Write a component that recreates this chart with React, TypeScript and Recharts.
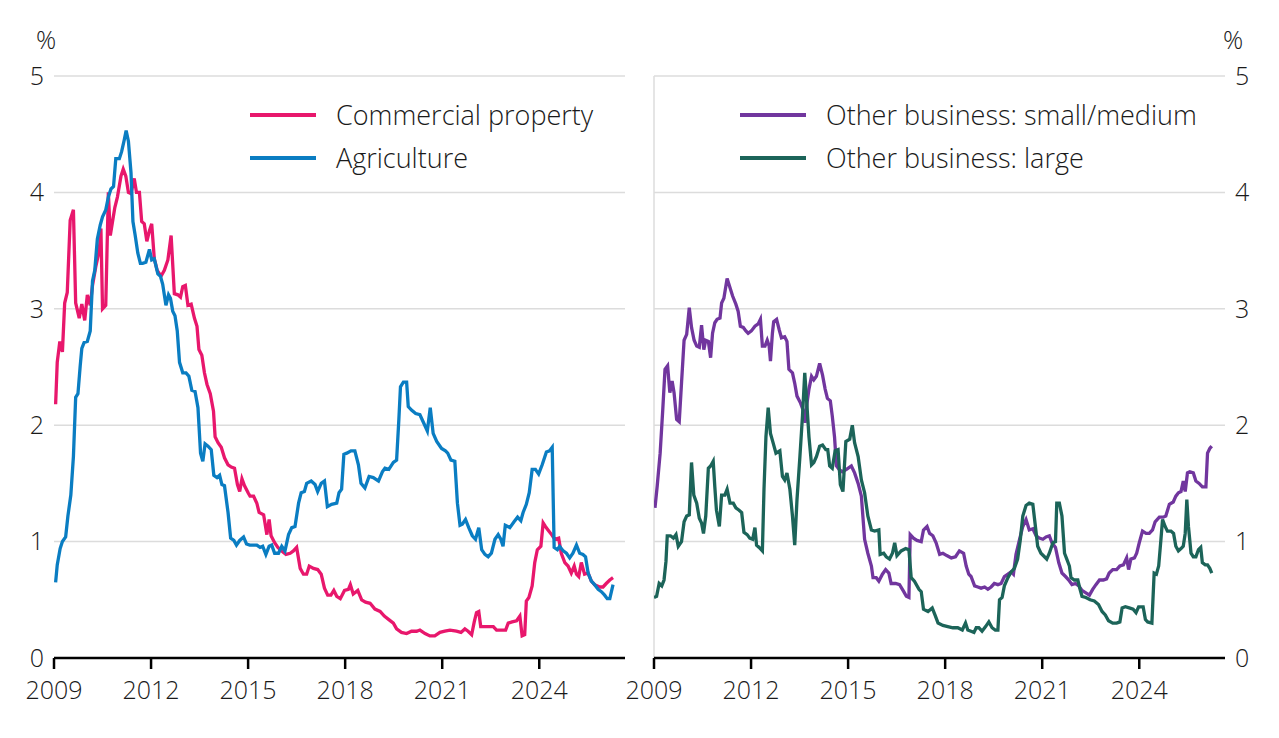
import React from 'react';
import { LineChart, Line, XAxis, YAxis, CartesianGrid, ReferenceLine } from 'recharts';

const yearTicks = [2009, 2012, 2015, 2018, 2021, 2024];
const pctTicks = [0, 1, 2, 3, 4, 5];

const commercialProperty: [number, number][] = [
[2009.05,2.18],[2009.10,2.54],[2009.18,2.72],[2009.26,2.63],[2009.33,3.05],[2009.41,3.14],[2009.50,3.76],[2009.60,3.85],[2009.67,3.05],[2009.78,2.92],[2009.86,3.04],[2009.95,2.9],[2010.03,3.12],[2010.12,3.03],[2010.19,3.2],[2010.29,3.36],[2010.40,3.5],[2010.45,3.69],[2010.50,3.0],[2010.60,3.03],[2010.68,4.0],[2010.74,3.63],[2010.81,3.75],[2010.88,3.87],[2010.96,3.96],[2011.07,4.14],[2011.14,4.2],[2011.22,4.14],[2011.30,4.0],[2011.38,3.99],[2011.48,4.12],[2011.55,4.0],[2011.64,4.0],[2011.71,3.75],[2011.79,3.73],[2011.87,3.58],[2011.95,3.67],[2012.02,3.73],[2012.10,3.43],[2012.19,3.33],[2012.31,3.28],[2012.41,3.33],[2012.52,3.42],[2012.62,3.63],[2012.72,3.13],[2012.83,3.12],[2012.91,3.1],[2012.98,3.19],[2013.06,3.2],[2013.14,3.03],[2013.24,3.04],[2013.34,2.92],[2013.42,2.85],[2013.48,2.65],[2013.57,2.6],[2013.65,2.45],[2013.73,2.35],[2013.83,2.27],[2013.93,2.12],[2013.98,1.9],[2014.07,1.85],[2014.17,1.81],[2014.27,1.72],[2014.38,1.66],[2014.48,1.64],[2014.58,1.63],[2014.67,1.49],[2014.74,1.43],[2014.81,1.54],[2014.89,1.48],[2015.00,1.42],[2015.06,1.39],[2015.17,1.39],[2015.27,1.33],[2015.34,1.25],[2015.48,1.23],[2015.58,1.06],[2015.65,1.19],[2015.71,1.05],[2015.82,0.99],[2015.92,0.95],[2016.04,0.92],[2016.17,0.89],[2016.30,0.9],[2016.40,0.92],[2016.50,0.95],[2016.61,0.77],[2016.71,0.72],[2016.81,0.72],[2016.89,0.79],[2017.02,0.77],[2017.15,0.76],[2017.26,0.72],[2017.36,0.6],[2017.46,0.54],[2017.56,0.54],[2017.65,0.58],[2017.74,0.53],[2017.85,0.51],[2017.98,0.58],[2018.10,0.59],[2018.16,0.63],[2018.25,0.55],[2018.39,0.58],[2018.51,0.5],[2018.63,0.48],[2018.77,0.47],[2018.92,0.42],[2019.08,0.4],[2019.21,0.36],[2019.35,0.33],[2019.49,0.3],[2019.59,0.25],[2019.74,0.22],[2019.90,0.21],[2020.05,0.23],[2020.21,0.23],[2020.31,0.24],[2020.47,0.21],[2020.62,0.19],[2020.77,0.19],[2020.93,0.22],[2021.08,0.23],[2021.24,0.24],[2021.44,0.23],[2021.58,0.22],[2021.70,0.25],[2021.80,0.23],[2021.91,0.2],[2021.99,0.31],[2022.06,0.39],[2022.13,0.4],[2022.19,0.27],[2022.32,0.27],[2022.47,0.27],[2022.58,0.27],[2022.68,0.24],[2022.83,0.24],[2022.96,0.24],[2023.04,0.3],[2023.16,0.31],[2023.30,0.32],[2023.40,0.36],[2023.47,0.19],[2023.55,0.2],[2023.60,0.49],[2023.68,0.52],[2023.78,0.62],[2023.86,0.82],[2023.94,0.93],[2024.05,0.96],[2024.12,1.16],[2024.19,1.13],[2024.27,1.1],[2024.38,1.06],[2024.48,1.02],[2024.60,1.03],[2024.68,0.9],[2024.79,0.82],[2024.89,0.79],[2024.99,0.73],[2025.08,0.79],[2025.15,0.72],[2025.22,0.7],[2025.30,0.82],[2025.40,0.72],[2025.51,0.73],[2025.61,0.66],[2025.71,0.63],[2025.87,0.61],[2025.97,0.61],[2026.07,0.64],[2026.18,0.67],[2026.28,0.69]
];

const agriculture: [number, number][] = [
[2009.05,0.65],[2009.10,0.8],[2009.19,0.94],[2009.26,1.0],[2009.36,1.04],[2009.43,1.22],[2009.52,1.4],[2009.60,1.73],[2009.67,2.24],[2009.74,2.27],[2009.81,2.51],[2009.86,2.66],[2009.93,2.71],[2010.03,2.72],[2010.12,2.81],[2010.19,3.24],[2010.26,3.33],[2010.34,3.6],[2010.43,3.72],[2010.50,3.79],[2010.60,3.85],[2010.68,3.96],[2010.76,4.03],[2010.84,4.05],[2010.91,4.29],[2011.02,4.29],[2011.09,4.35],[2011.17,4.45],[2011.23,4.53],[2011.30,4.44],[2011.38,4.17],[2011.44,3.75],[2011.51,3.63],[2011.59,3.48],[2011.67,3.39],[2011.74,3.39],[2011.84,3.4],[2011.95,3.51],[2012.02,3.42],[2012.10,3.43],[2012.21,3.3],[2012.29,3.28],[2012.36,3.21],[2012.46,3.03],[2012.54,3.12],[2012.60,3.09],[2012.67,2.98],[2012.74,2.94],[2012.81,2.81],[2012.88,2.54],[2012.98,2.45],[2013.08,2.45],[2013.17,2.42],[2013.26,2.3],[2013.36,2.29],[2013.45,2.15],[2013.53,1.76],[2013.60,1.69],[2013.67,1.84],[2013.76,1.82],[2013.86,1.79],[2013.94,1.57],[2014.04,1.55],[2014.12,1.57],[2014.19,1.49],[2014.27,1.48],[2014.38,1.25],[2014.46,1.03],[2014.56,1.01],[2014.64,0.97],[2014.74,1.01],[2014.86,1.04],[2014.95,0.98],[2015.05,0.97],[2015.12,0.97],[2015.27,0.97],[2015.37,0.95],[2015.45,0.96],[2015.55,0.89],[2015.65,0.96],[2015.73,0.97],[2015.82,0.9],[2015.94,0.9],[2016.04,0.96],[2016.14,0.92],[2016.25,1.06],[2016.35,1.12],[2016.45,1.13],[2016.56,1.33],[2016.64,1.42],[2016.74,1.43],[2016.81,1.5],[2016.95,1.52],[2017.07,1.49],[2017.15,1.43],[2017.26,1.5],[2017.36,1.52],[2017.45,1.3],[2017.58,1.32],[2017.74,1.33],[2017.81,1.42],[2017.89,1.45],[2017.96,1.75],[2018.05,1.76],[2018.18,1.78],[2018.30,1.78],[2018.41,1.66],[2018.49,1.5],[2018.61,1.46],[2018.74,1.56],[2018.87,1.55],[2019.03,1.52],[2019.15,1.6],[2019.23,1.63],[2019.35,1.62],[2019.49,1.68],[2019.59,1.7],[2019.66,2.05],[2019.71,2.33],[2019.80,2.37],[2019.90,2.37],[2019.95,2.16],[2020.05,2.13],[2020.18,2.1],[2020.31,2.09],[2020.41,2.03],[2020.54,1.95],[2020.63,2.15],[2020.72,1.93],[2020.83,1.86],[2020.98,1.8],[2021.10,1.78],[2021.17,1.76],[2021.27,1.7],[2021.39,1.69],[2021.47,1.33],[2021.55,1.14],[2021.62,1.15],[2021.72,1.19],[2021.82,1.12],[2021.93,1.05],[2022.03,1.02],[2022.13,1.12],[2022.22,0.93],[2022.32,0.89],[2022.42,0.87],[2022.52,0.9],[2022.63,1.02],[2022.73,1.06],[2022.81,1.02],[2022.88,0.96],[2022.95,1.14],[2023.09,1.12],[2023.22,1.17],[2023.33,1.21],[2023.43,1.18],[2023.50,1.25],[2023.60,1.32],[2023.69,1.42],[2023.78,1.62],[2023.88,1.62],[2023.98,1.58],[2024.09,1.66],[2024.22,1.77],[2024.32,1.78],[2024.40,1.81],[2024.46,0.95],[2024.56,0.93],[2024.63,0.96],[2024.74,0.92],[2024.84,0.9],[2024.94,0.86],[2025.04,0.9],[2025.15,0.97],[2025.25,0.9],[2025.35,0.89],[2025.43,0.87],[2025.51,0.73],[2025.61,0.66],[2025.71,0.63],[2025.82,0.59],[2025.92,0.57],[2026.02,0.54],[2026.10,0.51],[2026.18,0.51],[2026.28,0.63]
];

const otherSmallMedium: [number, number][] = [
[2009.03,1.29],[2009.10,1.48],[2009.19,1.76],[2009.27,2.13],[2009.34,2.48],[2009.42,2.51],[2009.49,2.28],[2009.56,2.38],[2009.62,2.28],[2009.70,2.05],[2009.78,2.03],[2009.85,2.36],[2009.93,2.73],[2010.01,2.78],[2010.09,3.01],[2010.16,2.84],[2010.24,2.73],[2010.32,2.68],[2010.40,2.67],[2010.47,2.86],[2010.54,2.65],[2010.60,2.73],[2010.68,2.72],[2010.75,2.58],[2010.81,2.79],[2010.88,2.88],[2010.95,2.91],[2011.04,2.92],[2011.09,3.05],[2011.16,3.09],[2011.26,3.26],[2011.35,3.18],[2011.43,3.11],[2011.53,3.04],[2011.60,2.98],[2011.67,2.85],[2011.76,2.84],[2011.84,2.81],[2011.91,2.79],[2012.01,2.81],[2012.12,2.85],[2012.22,2.87],[2012.29,2.91],[2012.35,2.68],[2012.43,2.68],[2012.50,2.73],[2012.56,2.68],[2012.60,2.55],[2012.66,2.79],[2012.70,2.89],[2012.79,2.91],[2012.87,2.82],[2012.94,2.75],[2013.04,2.76],[2013.11,2.72],[2013.17,2.48],[2013.28,2.45],[2013.35,2.36],[2013.42,2.25],[2013.53,2.19],[2013.61,2.13],[2013.67,2.02],[2013.73,2.19],[2013.79,2.31],[2013.87,2.42],[2013.94,2.39],[2014.02,2.42],[2014.12,2.53],[2014.21,2.43],[2014.29,2.31],[2014.36,2.23],[2014.45,2.21],[2014.51,2.08],[2014.58,1.9],[2014.64,1.65],[2014.72,1.62],[2014.82,1.6],[2014.95,1.62],[2015.10,1.65],[2015.20,1.59],[2015.31,1.5],[2015.41,1.39],[2015.51,1.02],[2015.61,0.9],[2015.72,0.79],[2015.77,0.69],[2015.87,0.69],[2015.95,0.66],[2016.06,0.72],[2016.16,0.76],[2016.26,0.73],[2016.33,0.64],[2016.47,0.64],[2016.59,0.63],[2016.72,0.57],[2016.80,0.53],[2016.88,0.52],[2016.92,1.06],[2017.02,1.03],[2017.13,1.01],[2017.26,1.0],[2017.33,1.1],[2017.44,1.13],[2017.52,1.07],[2017.62,1.05],[2017.72,0.99],[2017.83,0.89],[2017.93,0.9],[2018.05,0.88],[2018.19,0.86],[2018.32,0.87],[2018.44,0.92],[2018.57,0.9],[2018.65,0.79],[2018.73,0.72],[2018.80,0.7],[2018.91,0.62],[2019.01,0.61],[2019.11,0.6],[2019.22,0.61],[2019.32,0.59],[2019.42,0.61],[2019.52,0.64],[2019.63,0.63],[2019.73,0.64],[2019.83,0.7],[2019.94,0.72],[2020.04,0.74],[2020.11,0.72],[2020.19,0.89],[2020.30,1.02],[2020.40,1.13],[2020.50,1.19],[2020.60,1.1],[2020.71,1.11],[2020.81,1.05],[2020.91,1.03],[2021.02,1.02],[2021.12,1.04],[2021.22,1.05],[2021.30,0.99],[2021.41,0.95],[2021.51,0.82],[2021.61,0.73],[2021.72,0.7],[2021.82,0.67],[2021.92,0.63],[2022.03,0.64],[2022.13,0.62],[2022.23,0.58],[2022.35,0.56],[2022.46,0.54],[2022.56,0.59],[2022.66,0.63],[2022.77,0.67],[2022.89,0.67],[2022.99,0.68],[2023.07,0.73],[2023.18,0.76],[2023.30,0.76],[2023.40,0.79],[2023.51,0.8],[2023.61,0.86],[2023.67,0.76],[2023.74,0.85],[2023.85,0.86],[2023.92,0.9],[2024.00,0.99],[2024.10,1.09],[2024.21,1.07],[2024.31,1.07],[2024.41,1.1],[2024.49,1.17],[2024.62,1.21],[2024.74,1.21],[2024.82,1.22],[2024.93,1.32],[2025.05,1.34],[2025.13,1.39],[2025.21,1.42],[2025.29,1.43],[2025.36,1.52],[2025.42,1.43],[2025.49,1.59],[2025.56,1.6],[2025.67,1.59],[2025.75,1.52],[2025.85,1.5],[2025.95,1.47],[2026.06,1.47],[2026.11,1.76],[2026.18,1.8],[2026.24,1.82]
];

const otherLarge: [number, number][] = [
[2009.00,0.52],[2009.08,0.53],[2009.16,0.64],[2009.24,0.62],[2009.31,0.67],[2009.37,0.83],[2009.41,1.05],[2009.51,1.05],[2009.60,1.03],[2009.68,1.06],[2009.75,0.96],[2009.85,1.0],[2009.93,1.17],[2010.01,1.22],[2010.09,1.23],[2010.16,1.68],[2010.23,1.4],[2010.32,1.33],[2010.40,1.2],[2010.47,1.16],[2010.53,1.07],[2010.60,1.22],[2010.68,1.63],[2010.75,1.65],[2010.83,1.69],[2010.88,1.47],[2010.93,1.27],[2011.02,1.13],[2011.09,1.4],[2011.19,1.4],[2011.26,1.45],[2011.35,1.33],[2011.45,1.33],[2011.53,1.29],[2011.63,1.27],[2011.71,1.25],[2011.78,1.08],[2011.88,1.06],[2011.96,1.03],[2012.05,1.02],[2012.12,1.12],[2012.17,0.97],[2012.25,0.95],[2012.35,0.92],[2012.40,1.45],[2012.46,1.9],[2012.53,2.15],[2012.60,1.93],[2012.68,1.85],[2012.77,1.76],[2012.89,1.78],[2012.97,1.56],[2013.04,1.53],[2013.11,1.59],[2013.20,1.45],[2013.28,1.22],[2013.35,0.97],[2013.42,1.36],[2013.51,1.73],[2013.59,2.08],[2013.66,2.45],[2013.73,2.16],[2013.79,1.9],[2013.87,1.66],[2013.94,1.68],[2014.02,1.73],[2014.12,1.82],[2014.21,1.83],[2014.31,1.79],[2014.37,1.79],[2014.43,1.65],[2014.51,1.63],[2014.60,1.78],[2014.69,1.79],[2014.76,1.49],[2014.84,1.43],[2014.93,1.86],[2015.05,1.88],[2015.13,2.0],[2015.20,1.85],[2015.31,1.73],[2015.41,1.53],[2015.51,1.42],[2015.61,1.22],[2015.72,1.1],[2015.82,1.09],[2015.95,1.1],[2015.99,0.89],[2016.10,0.9],[2016.18,0.87],[2016.28,0.85],[2016.37,0.9],[2016.44,0.99],[2016.51,0.88],[2016.64,0.92],[2016.78,0.94],[2016.88,0.93],[2016.95,0.69],[2017.05,0.66],[2017.19,0.59],[2017.26,0.57],[2017.33,0.42],[2017.47,0.4],[2017.60,0.43],[2017.70,0.36],[2017.78,0.3],[2017.93,0.28],[2018.08,0.27],[2018.24,0.26],[2018.39,0.26],[2018.53,0.24],[2018.63,0.3],[2018.70,0.24],[2018.80,0.23],[2018.89,0.22],[2018.96,0.26],[2019.04,0.26],[2019.14,0.23],[2019.25,0.27],[2019.35,0.31],[2019.45,0.26],[2019.55,0.24],[2019.63,0.24],[2019.68,0.5],[2019.76,0.52],[2019.83,0.62],[2019.94,0.69],[2020.04,0.74],[2020.14,0.77],[2020.24,0.85],[2020.32,1.01],[2020.40,1.22],[2020.50,1.31],[2020.60,1.33],[2020.71,1.32],[2020.79,1.13],[2020.86,0.96],[2020.96,0.9],[2021.07,0.87],[2021.14,0.85],[2021.22,0.9],[2021.33,0.99],[2021.41,1.0],[2021.45,1.33],[2021.53,1.33],[2021.61,1.22],[2021.69,0.9],[2021.76,0.85],[2021.84,0.79],[2021.89,0.69],[2021.99,0.67],[2022.10,0.67],[2022.17,0.59],[2022.23,0.53],[2022.35,0.52],[2022.48,0.5],[2022.61,0.49],[2022.74,0.46],[2022.85,0.4],[2022.95,0.37],[2023.05,0.32],[2023.18,0.3],[2023.30,0.3],[2023.40,0.31],[2023.47,0.43],[2023.57,0.44],[2023.69,0.43],[2023.81,0.42],[2023.90,0.39],[2023.98,0.44],[2024.12,0.44],[2024.19,0.33],[2024.26,0.31],[2024.39,0.3],[2024.46,0.73],[2024.53,0.72],[2024.60,0.79],[2024.67,1.02],[2024.72,1.19],[2024.80,1.13],[2024.87,1.09],[2024.98,1.09],[2025.06,1.07],[2025.13,0.96],[2025.21,0.92],[2025.29,0.94],[2025.36,0.96],[2025.42,1.07],[2025.47,1.36],[2025.52,1.13],[2025.60,0.9],[2025.67,0.87],[2025.75,0.87],[2025.83,0.93],[2025.90,0.95],[2025.95,0.82],[2026.04,0.8],[2026.11,0.8],[2026.18,0.77],[2026.24,0.73]
];

const toRows = (arr: [number, number][]) => arr.map(([t, v]) => ({ t, v }));

const FONT = "'Open Sans', 'Noto Sans', sans-serif";
const TEXT = '#1a1a1a';
const GRID = '#dcdcdc';
const X_DOMAIN: [number, number] = [2009, 2026.65];

const COLORS = {
  commercial: '#E8176C',
  agriculture: '#0A7DC2',
  small: '#71369E',
  large: '#1C6459',
};

const leftSeries = [
  { name: 'Commercial property', color: COLORS.commercial, data: toRows(commercialProperty) },
  { name: 'Agriculture', color: COLORS.agriculture, data: toRows(agriculture) },
];
const rightSeries = [
  { name: 'Other business: small/medium', color: COLORS.small, data: toRows(otherSmallMedium) },
  { name: 'Other business: large', color: COLORS.large, data: toRows(otherLarge) },
];

const tickStyle = { fill: TEXT, fontSize: 25, fontFamily: FONT, fontWeight: 300 };

function LegendBlock({ items, left, top }: { items: { name: string; color: string }[]; left: number; top: number }) {
  return (
    <div style={{ position: 'absolute', left, top }}>
      {items.map((it, i) => (
        <div key={it.name} style={{ position: 'absolute', left: 0, top: i * 43, height: 30, whiteSpace: 'nowrap', display: 'flex', alignItems: 'center' }}>
          <svg width={66} height={30} style={{ display: 'block' }}>
            <line x1={0} x2={66} y1={15} y2={15} stroke={it.color} strokeWidth={4} />
          </svg>
          <span style={{ marginLeft: 20, fontFamily: FONT, fontWeight: 300, fontSize: 27, color: TEXT, lineHeight: '30px' }}>{it.name}</span>
        </div>
      ))}
    </div>
  );
}

function XAxisCommon() {
  return null;
}

export default function App() {
  const xAxisProps = {
    type: 'number' as const,
    dataKey: 't',
    domain: X_DOMAIN,
    ticks: yearTicks,
    interval: 0 as const,
    allowDataOverflow: true,
    height: 80,
    tick: tickStyle,
    tickSize: 11,
    tickMargin: 12,
    tickLine: { stroke: '#000', strokeWidth: 2.5 },
    axisLine: { stroke: '#000', strokeWidth: 2.5 },
  };
  return (
    <div style={{ position: 'absolute', left: 0, top: 0, width: 1279, height: 738, background: '#fff', overflow: 'hidden' }}>
      <div style={{ position: 'absolute', left: 0, top: 0 }}>
        <LineChart width={640} height={738} margin={{ top: 76, right: 15, bottom: 0, left: 0 }}>
          <CartesianGrid horizontal vertical={false} stroke={GRID} strokeWidth={1.5} />
          <XAxis {...xAxisProps} />
          <YAxis
            type="number"
            domain={[0, 5]}
            ticks={pctTicks}
            width={54}
            axisLine={false}
            tickLine={false}
            tickSize={0}
            tickMargin={10}
            tick={tickStyle}
          />
          {leftSeries.map((s) => (
            <Line key={s.name} data={s.data} dataKey="v" name={s.name} type="linear" stroke={s.color} strokeWidth={3.3} dot={false} isAnimationActive={false} />
          ))}
        </LineChart>
      </div>
      <div style={{ position: 'absolute', left: 600, top: 0 }}>
        <LineChart width={679} height={738} margin={{ top: 76, right: 0, bottom: 0, left: 54 }}>
          <CartesianGrid horizontal vertical={false} stroke={GRID} strokeWidth={1.5} />
          <ReferenceLine x={2009} stroke={GRID} strokeWidth={1.5} />
          <XAxis {...xAxisProps} />
          <YAxis
            type="number"
            orientation="right"
            domain={[0, 5]}
            ticks={pctTicks}
            width={54}
            axisLine={false}
            tickLine={false}
            tickSize={0}
            tickMargin={10}
            tick={tickStyle}
          />
          {rightSeries.map((s) => (
            <Line key={s.name} data={s.data} dataKey="v" name={s.name} type="linear" stroke={s.color} strokeWidth={3.3} dot={false} isAnimationActive={false} />
          ))}
        </LineChart>
      </div>
      <div style={{ position: 'absolute', left: 36, top: 22, fontFamily: FONT, fontWeight: 300, fontSize: 25, color: TEXT }}>%</div>
      <div style={{ position: 'absolute', left: 1223, top: 22, fontFamily: FONT, fontWeight: 300, fontSize: 25, color: TEXT }}>%</div>
      <LegendBlock items={leftSeries} left={250} top={100} />
      <LegendBlock items={rightSeries} left={740} top={100} />
    </div>
  );
}
